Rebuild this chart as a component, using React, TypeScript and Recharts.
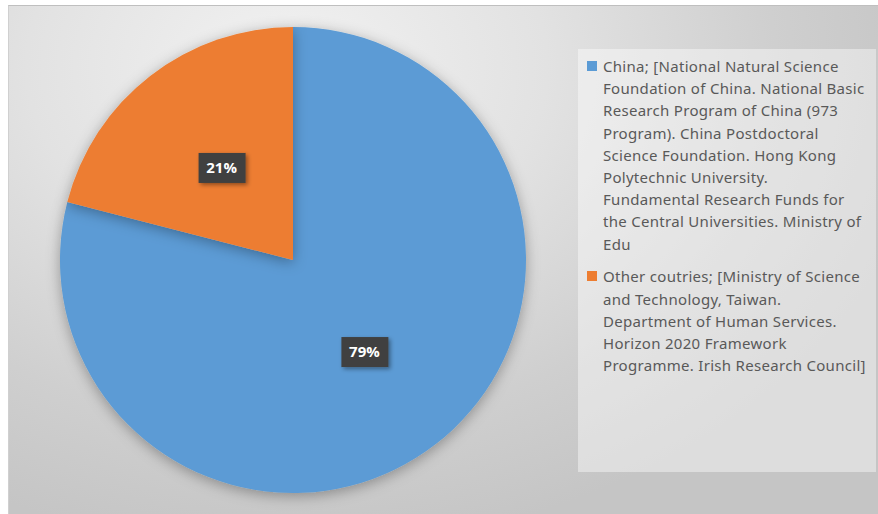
import { PieChart, Pie, Cell, Legend } from 'recharts';

// legend text as it wraps in the original
const categoryLines = [
  [
    'China; [National Natural Science',
    'Foundation of China. National Basic',
    'Research Program of China (973',
    'Program). China Postdoctoral',
    'Science Foundation. Hong Kong',
    'Polytechnic University.',
    'Fundamental Research Funds for',
    'the Central Universities. Ministry of',
    'Edu',
  ],
  [
    'Other coutries; [Ministry of Science',
    'and Technology, Taiwan.',
    'Department of Human Services.',
    'Horizon 2020 Framework',
    'Programme. Irish Research Council]',
  ],
];
const shares = [79, 21];
const colors = ['#5b9bd5', '#ed7d31'];

const data = categoryLines.map((lines, i) => ({ name: lines.join(' '), value: shares[i] }));

const RADIAN = Math.PI / 180;

const renderLabel = (props: any) => {
  const { cx, cy, midAngle, outerRadius, percent } = props;
  const r = outerRadius * 0.5;
  const x = cx + r * Math.cos(-midAngle * RADIAN);
  const y = cy + r * Math.sin(-midAngle * RADIAN);
  return (
    <g>
      <rect x={x - 23} y={y - 15} width={47} height={30} fill="#404040" filter="url(#lblShadow)" />
      <text
        x={x}
        y={y + 1}
        fill="#ffffff"
        textAnchor="middle"
        dominantBaseline="middle"
        fontFamily="'Open Sans', sans-serif"
        fontWeight={700}
        fontSize={15}
      >
        {Math.round(percent * 100)}%
      </text>
    </g>
  );
};

const renderLegend = () => (
  <div
    style={{
      width: 298,
      height: 423,
      boxSizing: 'border-box',
      background: 'rgba(255,255,255,0.42)',
      paddingTop: 6,
      paddingLeft: 9,
      paddingRight: 2,
      fontFamily: "'Noto Sans', sans-serif",
      fontSize: 15,
      letterSpacing: 0.3,
      lineHeight: '22.2px',
      color: '#595959',
      textAlign: 'left',
      whiteSpace: 'nowrap',
    }}
  >
    {categoryLines.map((lines, i) => (
      <div key={i} style={{ display: 'flex', marginBottom: 10.5 }}>
        <span
          style={{
            flex: '0 0 10px',
            height: 10,
            marginTop: 6,
            marginRight: 6,
            background: colors[i],
          }}
        />
        <div>
          {lines.map((l) => (
            <div key={l}>{l}</div>
          ))}
        </div>
      </div>
    ))}
  </div>
);

export default function App() {
  return (
    <div style={{ position: 'absolute', left: 0, top: 0, width: 878, height: 514, background: '#ffffff' }}>
      <div
        style={{
          position: 'absolute',
          left: 8,
          top: 5,
          width: 870,
          height: 509,
          boxSizing: 'border-box',
          borderTop: '1px solid #bfbfbf',
          borderLeft: '1px solid #d0d0d0',
          background: 'radial-gradient(ellipse 75% 95% at 32% 12%, #f2f2f2 0%, #e2e2e2 40%, #cfcfcf 75%, #c5c5c5 100%)',
        }}
      />
      <div style={{ position: 'absolute', left: 0, top: 0 }}>
        <PieChart width={878} height={514} margin={{ top: 0, right: 0, bottom: 0, left: 0 }}>
          <defs>
            <filter id="pieShadow" x="-20%" y="-20%" width="140%" height="140%">
              <feDropShadow dx="0" dy="3" stdDeviation="7" floodColor="#000" floodOpacity="0.32" />
            </filter>
            <filter id="lblShadow" x="-30%" y="-30%" width="160%" height="160%">
              <feDropShadow dx="2" dy="2" stdDeviation="2" floodColor="#000" floodOpacity="0.4" />
            </filter>
          </defs>
          <Pie
            data={data}
            dataKey="value"
            nameKey="name"
            cx={293}
            cy={260}
            outerRadius={233}
            startAngle={90}
            endAngle={-270}
            stroke="none"
            labelLine={false}
            label={renderLabel}
            isAnimationActive={false}
            style={{ filter: 'url(#pieShadow)' }}
          >
            {data.map((d, i) => (
              <Cell key={d.name} fill={colors[i]} />
            ))}
          </Pie>
          <Legend
            content={renderLegend}
            wrapperStyle={{ position: 'absolute', left: 578, top: 49, width: 298, height: 423 }}
          />
        </PieChart>
      </div>
    </div>
  );
}
